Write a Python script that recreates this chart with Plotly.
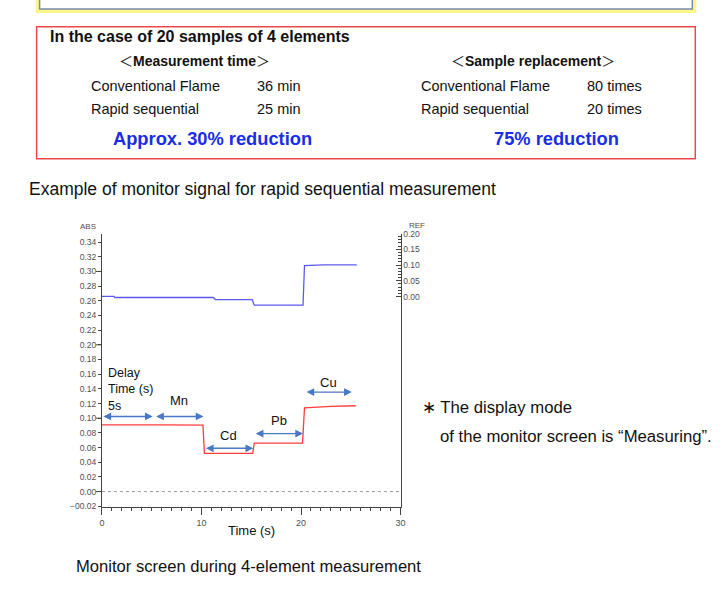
import plotly.graph_objects as go

W, H = 726, 600

# ---------------- data ----------------
time_label = "Time (s)"
x_ticks = [0, 10, 20, 30]
abs_ticks = [round(-0.02 + 0.02 * i, 2) for i in range(19)]
ref_ticks = [0.00, 0.05, 0.10, 0.15, 0.20]

sample_t = [0, 3, 6, 10.15, 10.3, 15.15, 15.3, 20.15, 20.35, 23, 25.5]
sample_abs = [0.091, 0.0915, 0.091, 0.0905, 0.052, 0.052, 0.066, 0.066, 0.114, 0.116, 0.117]

ref_t = [0, 1.2, 1.3, 11.2, 11.4, 15.1, 15.3, 20.2, 20.35, 22.2, 25.6]
ref_abs = [0.266, 0.266, 0.2645, 0.2645, 0.2615, 0.2615, 0.254, 0.254, 0.308, 0.309, 0.309]

seg_labels = ["Delay<br>Time (s)<br>5s", "Mn", "Cd", "Pb", "Cu"]
seg_start = [0.0, 5.3, 10.3, 15.3, 20.4]
seg_end = [5.1, 10.2, 15.2, 20.2, 25.1]
seg_level = [0.1024, 0.1024, 0.059, 0.079, 0.1356]

# ---------------- helpers ----------------
def px(x):
    return x / W

def py(y):
    return 1 - y / H

FONT = "Liberation Sans, Arial, sans-serif"
CJK = "Noto Sans CJK JP"
TICKC = "#505050"

x_dom = [px(100), px(402)]
y_dom = [py(510), py(232)]

fig = go.Figure()
fig.add_trace(go.Scatter(x=ref_t, y=ref_abs, mode="lines",
                         line=dict(color="#5a5af0", width=1.3), showlegend=False))
fig.add_trace(go.Scatter(x=sample_t, y=sample_abs, mode="lines",
                         line=dict(color="#ff3c3c", width=1.3), showlegend=False))

fig.update_layout(
    width=W, height=H, margin=dict(l=0, r=0, t=0, b=0),
    paper_bgcolor="white", plot_bgcolor="white",
    font=dict(family=FONT, color="#111"),
    xaxis=dict(domain=x_dom, range=[0, 30], tickvals=x_ticks,
               ticks="outside", ticklen=7, tickcolor="#444",
               showline=True, linecolor="#444", linewidth=1,
               showgrid=False, zeroline=False,
               tickfont=dict(size=9, color=TICKC, family=FONT),
               minor=dict(dtick=1, ticks="outside", ticklen=3, tickcolor="#444"),
               anchor="y"),
    yaxis=dict(domain=y_dom, range=[-0.0215, 0.3517], tickvals=abs_ticks,
               ticktext=[f"{v:.2f}".replace("-", "\u22120") for v in abs_ticks],
               ticks="outside", ticklen=3, tickcolor="#444",
               showline=True, linecolor="#444", linewidth=1,
               showgrid=False, zeroline=False,
               tickfont=dict(size=8.5, color=TICKC, family=FONT), anchor="x"),
    yaxis2=dict(overlaying="y", side="right", anchor="x",
                range=[-0.66875, 0.2], tickvals=ref_ticks,
                ticktext=[f"{v:.2f}" for v in ref_ticks],
                ticks="inside", ticklen=5, tickcolor="#444",
                showline=True, linecolor="#444", linewidth=1,
                showgrid=False, zeroline=False,
                tickfont=dict(size=8.5, color=TICKC, family=FONT),
                minor=dict(tickvals=[round(0.01 * i, 2) for i in range(21)],
                           ticks="inside", ticklen=3, tickcolor="#444")),
)

# invisible trace to activate REF axis
fig.add_trace(go.Scatter(x=[None], y=[None], yaxis="y2", showlegend=False))

shapes = []
# zero dashed line
shapes.append(dict(type="line", xref="x", yref="y", x0=0, x1=30, y0=0, y1=0,
                   line=dict(color="#999", width=1, dash="dot")))
# long ticks on ABS axis
for v in [0.0, 0.1, 0.2, 0.3]:
    shapes.append(dict(type="line", xref="paper", yref="y", x0=px(94), x1=px(100),
                       y0=v, y1=v, line=dict(color="#444", width=1)))
# top partial box (yellow glow) and red box
shapes.append(dict(type="rect", xref="paper", yref="paper", x0=px(35), x1=px(699),
                   y0=py(6), y1=py(-20), line=dict(color="#fbf68a", width=4)))
shapes.append(dict(type="rect", xref="paper", yref="paper", x0=px(37), x1=px(697),
                   y0=py(4), y1=py(-20), line=dict(color="#7b8bab", width=1.5)))
shapes.append(dict(type="rect", xref="paper", yref="paper", x0=px(34), x1=px(700),
                   y0=py(156), y1=py(22), line=dict(color="#f04848", width=1.5)))
fig.update_layout(shapes=shapes)

ann = []

def text(x, y, s, size, xanchor="left", bold=False, color="#111"):
    if bold:
        s = f"<b>{s}</b>"
    ann.append(dict(x=px(x), y=py(y), xref="paper", yref="paper", text=s,
                    showarrow=False, xanchor=xanchor, yanchor="middle",
                    font=dict(size=size, color=color, family=FONT)))

LB = f"<span style='font-family:{CJK};font-weight:normal'>\uff1c</span>"
RB = f"<span style='font-family:{CJK};font-weight:normal'>\uff1e</span>"

text(45, 32, "In the case of 20 samples of 4 elements", 16, bold=True)
text(194, 56, f"{LB}Measurement time{RB}", 14, xanchor="center", bold=True)
text(536, 56, f"{LB}Sample replacement{RB}", 14, xanchor="center", bold=True)
text(87, 82, "Conventional Flame", 14.5)
text(255, 82, "36 min", 14.5)
text(87, 106, "Rapid sequential", 14.5)
text(255, 106, "25 min", 14.5)
text(421, 82, "Conventional Flame", 14.5)
text(588, 82, "80 times", 14.5)
text(421, 106, "Rapid sequential", 14.5)
text(588, 106, "20 times", 14.5)
text(212, 136, "Approx. 30% reduction", 18.3, xanchor="center", bold=True, color="#1a2ee8")
text(560, 136, "75% reduction", 18.3, xanchor="center", bold=True, color="#1a2ee8")
text(24, 187, "Example of monitor signal for rapid sequential measurement", 17.5)
text(422, 409, "\u2217 The display mode", 16.7)
text(440, 438, "of the monitor screen is \u201cMeasuring\u201d.", 16.7)
text(72, 570, "Monitor screen during 4-element measurement", 16.6)
text(251, 534, time_label, 13, xanchor="center")
text(86, 225, "ABS", 8, xanchor="center", color=TICKC)
text(419, 224, "REF", 8, xanchor="center", color=TICKC)

# double-headed arrows and labels
label_shift = [0, 16, 13, 13, 10]
for i, lab in enumerate(seg_labels):
    ann.append(dict(x=seg_end[i], y=seg_level[i], ax=seg_start[i], ay=seg_level[i],
                    xref="x", yref="y", axref="x", ayref="y", text="",
                    showarrow=True, arrowside="end+start", arrowhead=2,
                    arrowsize=1.1, arrowwidth=1.4, arrowcolor="#4a78c8",
                    standoff=0, startstandoff=0))
    if i == 0:
        ann.append(dict(x=seg_start[i] + 0.45, y=seg_level[i], xref="x", yref="y",
                        text=lab, showarrow=False, xanchor="left", yanchor="bottom",
                        yshift=1, align="left",
                        font=dict(size=12.5, color="#111", family=FONT)))
    else:
        ann.append(dict(x=(seg_start[i] + seg_end[i]) / 2, y=seg_level[i],
                        xref="x", yref="y", text=lab, showarrow=False,
                        xanchor="center", yanchor="middle", yshift=label_shift[i],
                        font=dict(size=13, color="#111", family=FONT)))

fig.update_layout(annotations=ann)
fig.write_html("out.html")
